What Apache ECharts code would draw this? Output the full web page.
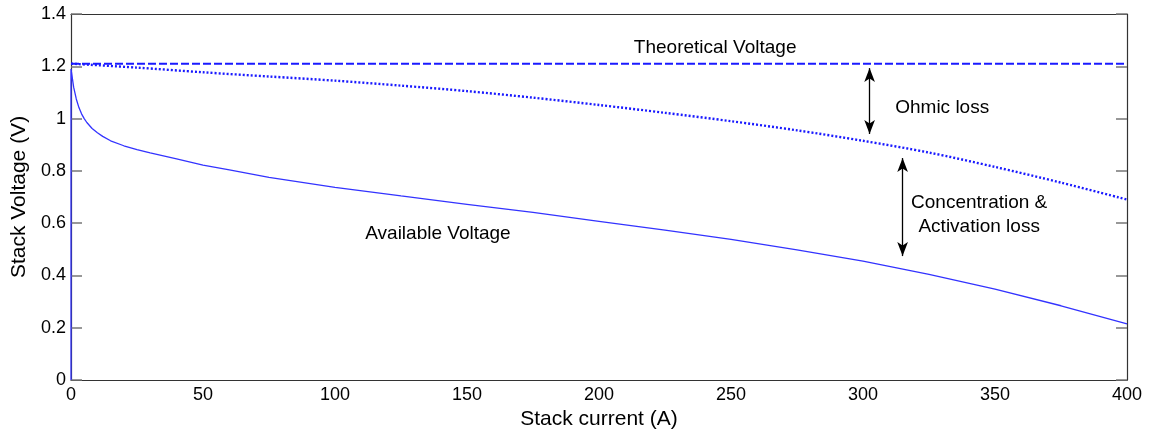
<!DOCTYPE html>
<html>
<head>
<meta charset="utf-8">
<script src="https://cdn.jsdelivr.net/npm/echarts@6/dist/echarts.min.js"></script>
<style>
  html, body { margin: 0; padding: 0; background: #fff; }
  #chart { width: 1155px; height: 435px; }
</style>
</head>
<body>
<div id="chart"></div>
<script>
// Stack current (A)
const currentAvail = [0, 0, 1, 2, 3, 4, 5, 6, 8, 10, 12, 15, 20, 25, 30, 40, 50, 60, 75, 100, 125, 150, 175, 200, 225, 250, 275, 300, 325, 350, 375, 400];
// Available stack voltage (V)
const voltAvail = [0, 1.19, 1.12, 1.075, 1.042, 1.018, 1.0, 0.985, 0.962, 0.946, 0.932, 0.915, 0.896, 0.881, 0.869, 0.846, 0.822, 0.804, 0.775, 0.737, 0.704, 0.672, 0.641, 0.607, 0.573, 0.538, 0.498, 0.455, 0.404, 0.348, 0.284, 0.215];

// Voltage after ohmic loss only
const currentOhmic = [0, 25, 50, 75, 100, 125, 150, 175, 200, 225, 250, 275, 300, 325, 350, 375, 400];
const voltOhmic = [1.21, 1.195, 1.177, 1.161, 1.145, 1.126, 1.105, 1.08, 1.052, 1.022, 0.99, 0.955, 0.915, 0.87, 0.815, 0.755, 0.69];

// Theoretical (open circuit) voltage
const currentTheo = [0, 400];
const voltTheo = [1.21, 1.21];

// Axis ticks
const xTicks = { min: 0, max: 400, interval: 50 };
const yTicks = { min: 0, max: 1.4, interval: 0.2 };

// Text annotations: [current, voltage, text]
const notes = [
  [244, 1.272, 'Theoretical Voltage'],
  [330, 1.040, 'Ohmic loss'],
  [344, 0.631, 'Concentration &\nActivation loss'],
  [139, 0.560, 'Available Voltage']
];

// Loss arrows: [current, voltage top, voltage bottom]
const arrows = [
  [302.5, 1.193, 0.941],
  [315, 0.849, 0.474]
];

const zip = (xs, ys) => xs.map((x, i) => [x, ys[i]]);
const FONT = 'Liberation Sans, Arial, sans-serif';
const BLUE = '#1a1aff';

const baseAxis = (pos, t, ticks) => ({
  type: 'value',
  position: pos,
  min: t.min, max: t.max, interval: t.interval,
  axisLine: { show: true, onZero: false, lineStyle: { color: '#333', width: 1.2 } },
  axisTick: { show: ticks, inside: true, length: 11, lineStyle: { color: '#777', width: 1.5 } },
  splitLine: { show: false }
});

const chart = echarts.init(document.getElementById('chart'), null, { renderer: 'canvas' });

chart.setOption({
  animation: false,
  backgroundColor: '#fff',
  grid: { left: 71, right: 28, top: 14, bottom: 55, containLabel: false, outerBoundsMode: 'none' },
  xAxis: [
    Object.assign(baseAxis('bottom', xTicks, false), {
      name: 'Stack current (A)',
      nameLocation: 'middle',
      nameGap: 26,
      nameTextStyle: { fontFamily: FONT, fontSize: 21, color: '#000' },
      axisLabel: { fontFamily: FONT, fontSize: 18, color: '#000', margin: 6 }
    }),
    Object.assign(baseAxis('top', xTicks, false), { axisLabel: { show: false } })
  ],
  yAxis: [
    Object.assign(baseAxis('left', yTicks, true), {
      name: 'Stack Voltage (V)',
      nameLocation: 'middle',
      nameGap: 39,
      nameTextStyle: { fontFamily: FONT, fontSize: 21, color: '#000' },
      axisLabel: { fontFamily: FONT, fontSize: 18, color: '#000', margin: 5 }
    }),
    Object.assign(baseAxis('right', yTicks, true), { axisLabel: { show: false } })
  ],
  series: [
    {
      name: 'Theoretical Voltage',
      type: 'line',
      data: zip(currentTheo, voltTheo),
      symbol: 'none',
      lineStyle: { color: BLUE, width: 2, type: [8, 3] },
      z: 3
    },
    {
      name: 'Ohmic',
      type: 'line',
      data: zip(currentOhmic, voltOhmic),
      symbol: 'none',
      smooth: 0.3,
      lineStyle: { color: BLUE, width: 2.4, type: [2, 2] },
      z: 3
    },
    {
      name: 'Available Voltage',
      type: 'line',
      data: zip(currentAvail, voltAvail),
      symbol: 'none',
      lineStyle: { color: '#3333ff', width: 1.3 },
      z: 3
    },
    {
      name: 'notes',
      type: 'scatter',
      data: notes.map(n => ({ value: [n[0], n[1]], text: n[2] })),
      symbolSize: 0,
      silent: true,
      itemStyle: { opacity: 1 },
      label: {
        show: true,
        position: 'inside',
        formatter: p => p.data.text,
        fontFamily: FONT,
        fontSize: 19,
        lineHeight: 24,
        color: '#000',
        textBorderWidth: 0,
        align: 'center',
        verticalAlign: 'middle'
      },
      z: 5
    },
    {
      name: 'arrows',
      type: 'line',
      data: [],
      markLine: {
        silent: true,
        symbol: ['arrow', 'arrow'],
        symbolSize: [8, 14],
        label: { show: false },
        lineStyle: { color: '#000', width: 1.3, type: 'solid' },
        data: arrows.map(a => [
          { coord: [a[0], a[1]] },
          { coord: [a[0], a[2]] }
        ])
      }
    }
  ]
});
</script>
</body>
</html>
